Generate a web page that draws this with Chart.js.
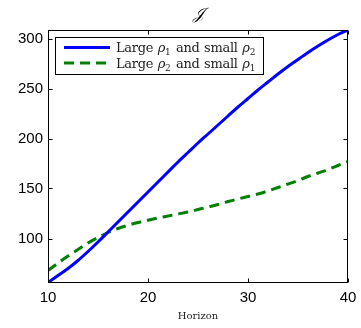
<!DOCTYPE html>
<html lang="en">
<head>
    <meta charset="UTF-8">
    <title>J vs Horizon</title>
    <style>
        * { margin: 0; padding: 0; box-sizing: border-box; }
        body { background: #fff; width: 361px; height: 328px; overflow: hidden; }
        .chart-box { position: relative; width: 361px; height: 328px; }
    </style>
</head>
<body>
    <div class="chart-box">
        <canvas id="jChart" width="361" height="328"></canvas>
    </div>

    <script src="https://cdn.jsdelivr.net/npm/chart.js"></script>
    <script>
        // data
        const horizon = [10, 11, 12, 13, 14, 15, 16, 17, 18, 19, 20, 21, 22, 23, 24, 25,
                         26, 27, 28, 29, 30, 31, 32, 33, 34, 35, 36, 37, 38, 39, 40];
        const largeRho1 = [56, 63, 70, 78, 87, 96.5, 106.5, 116.5, 126.5, 136.5, 146.5, 156.5, 166.5,
                           176.5, 186, 195.5, 204.5, 213.5, 222.5, 231.5, 240, 248.5, 256.5, 264.5,
                           272, 279, 286, 292.5, 298.5, 304, 308.5];
        const largeRho2 = [68, 75.5, 82.5, 89, 95.5, 101, 106, 110, 113.2, 116, 118.3, 120.5, 122.5,
                           124.5, 126.5, 129, 131.5, 134, 137, 139.5, 142, 144.5, 147.5, 151,
                           154.5, 158, 162, 165.5, 169, 173, 177];
        const seriesLabels = ['Large ρ₁ and small ρ₂', 'Large ρ₂ and small ρ₁'];
        const xTicks = [10, 20, 30, 40];
        const yTicks = [100, 150, 200, 250, 300];
        const chartTitle = '𝒥';
        const xTitle = 'Horizon';

        // box, inward ticks, title and legend drawn MATLAB style
        const matlabFrame = {
            id: 'matlabFrame',
            afterDatasetsDraw(chart) {
                const { ctx, chartArea: a, scales: { x, y } } = chart;
                const L = Math.round(a.left) + 0.5, R = Math.round(a.right) - 0.5;
                const T = Math.round(a.top) + 0.5, B = Math.round(a.bottom) - 0.5;
                ctx.save();
                ctx.strokeStyle = '#000';
                ctx.lineWidth = 1;
                ctx.strokeRect(L, T, R - L, B - T);
                ctx.beginPath();
                xTicks.forEach(v => {
                    const px = Math.round(x.getPixelForValue(v)) + 0.5;
                    ctx.moveTo(px, B); ctx.lineTo(px, B - 4);
                    ctx.moveTo(px, T); ctx.lineTo(px, T + 4);
                });
                yTicks.forEach(v => {
                    const py = Math.round(y.getPixelForValue(v)) + 0.5;
                    ctx.moveTo(L, py); ctx.lineTo(L + 4, py);
                    ctx.moveTo(R, py); ctx.lineTo(R - 4, py);
                });
                ctx.stroke();

                // title
                ctx.fillStyle = '#000';
                ctx.font = 'italic 16px "DejaVu Serif", serif';
                ctx.textAlign = 'center';
                ctx.textBaseline = 'middle';
                ctx.fillText(chartTitle, (a.left + a.right) / 2, 15);

                // legend
                const lx = 55.5, ly = 37.5, lw = 208, lh = 37;
                ctx.fillStyle = '#fff';
                ctx.fillRect(lx, ly, lw, lh);
                ctx.strokeStyle = '#000';
                ctx.strokeRect(lx, ly, lw, lh);
                chart.data.datasets.forEach((ds, i) => {
                    const cy = 47.5 + i * 15.5;
                    ctx.save();
                    ctx.strokeStyle = ds.borderColor;
                    ctx.lineWidth = ds.borderWidth;
                    ctx.setLineDash(ds.borderDash || []);
                    ctx.beginPath();
                    ctx.moveTo(64, cy); ctx.lineTo(110, cy);
                    ctx.stroke();
                    ctx.restore();
                    drawMathLabel(ctx, ds.label, 116, cy + 4.5);
                });
                ctx.restore();
            }
        };

        // draws "ρ₁" with italic rho and a lowered small digit
        function drawMathLabel(ctx, text, x, baseline) {
            const subs = { '₁': '1', '₂': '2' };
            ctx.textAlign = 'left';
            ctx.textBaseline = 'alphabetic';
            ctx.fillStyle = '#222';
            for (const ch of text) {
                if (subs[ch]) {
                    ctx.font = '9px "DejaVu Serif", serif';
                    ctx.fillText(subs[ch], x, baseline + 3);
                    x += ctx.measureText(subs[ch]).width + 0.5;
                } else {
                    ctx.font = (ch === 'ρ' ? 'italic ' : '') + '13px "DejaVu Serif", serif';
                    ctx.fillText(ch, x, baseline);
                    x += ctx.measureText(ch).width + (ch === ' ' ? 0.5 : -0.3);
                }
            }
        }

        const ctx = document.getElementById('jChart').getContext('2d');
        new Chart(ctx, {
            type: 'line',
            data: {
                labels: horizon,
                datasets: [{
                    label: seriesLabels[0],
                    data: largeRho1,
                    borderColor: '#0000ff',
                    borderWidth: 3,
                    pointRadius: 0,
                    cubicInterpolationMode: 'monotone'
                }, {
                    label: seriesLabels[1],
                    data: largeRho2,
                    borderColor: '#008000',
                    borderWidth: 3,
                    borderDash: [10, 6],
                    pointRadius: 0,
                    cubicInterpolationMode: 'monotone'
                }]
            },
            options: {
                responsive: false,
                animation: false,
                devicePixelRatio: 1,
                layout: { padding: { top: 30, right: 13, left: 0, bottom: 0 } },
                plugins: {
                    legend: { display: false },
                    tooltip: { enabled: false }
                },
                scales: {
                    x: {
                        type: 'linear',
                        min: 10,
                        max: 40,
                        afterBuildTicks: s => { s.ticks = xTicks.map(v => ({ value: v })); },
                        afterFit: s => { s.height = 45; s.paddingLeft = 0; s.paddingRight = 0; },
                        grid: { display: false, drawTicks: false },
                        border: { display: false },
                        ticks: {
                            color: '#000',
                            padding: 6,
                            font: { family: '"Liberation Sans", Arial, sans-serif', size: 15 }
                        },
                        title: {
                            display: true,
                            text: xTitle,
                            color: '#222',
                            padding: { top: 0, bottom: 6 },
                            font: { family: '"DejaVu Serif", serif', size: 10 }
                        }
                    },
                    y: {
                        min: 55.5,
                        max: 308.5,
                        afterBuildTicks: s => { s.ticks = yTicks.map(v => ({ value: v })); },
                        afterFit: s => { s.width = 48; s.paddingTop = 0; s.paddingBottom = 0; },
                        grid: { display: false, drawTicks: false },
                        border: { display: false },
                        ticks: {
                            color: '#000',
                            padding: 5,
                            font: { family: '"Liberation Sans", Arial, sans-serif', size: 15 }
                        }
                    }
                }
            },
            plugins: [matlabFrame]
        });
    </script>
</body>
</html>
